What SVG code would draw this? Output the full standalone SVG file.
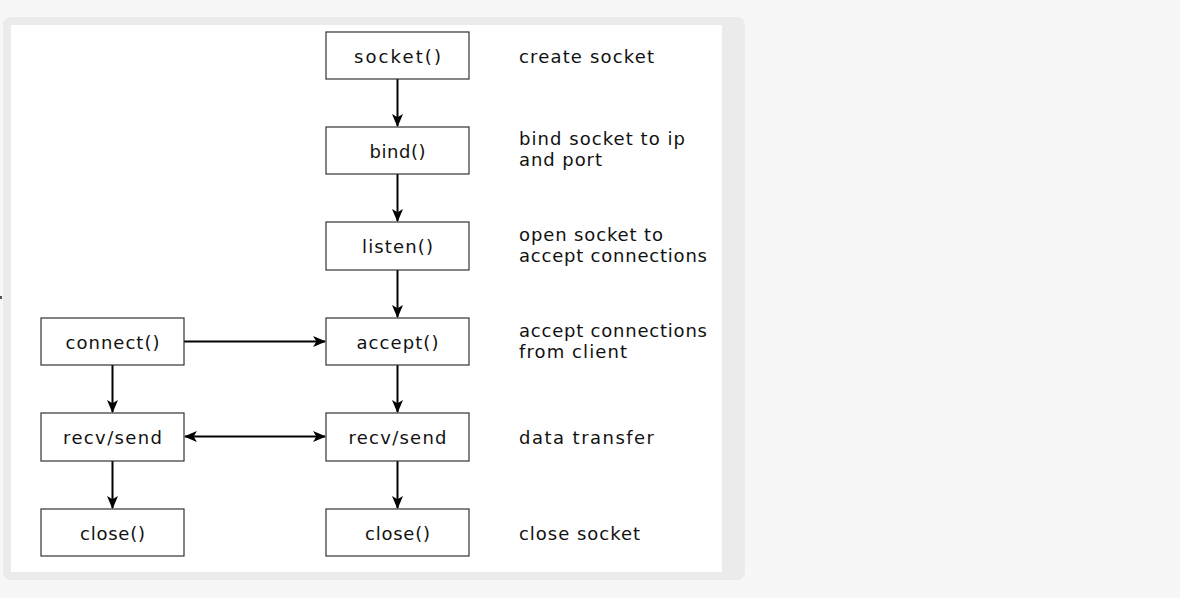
<svg xmlns="http://www.w3.org/2000/svg" width="1180" height="598" viewBox="0 0 1180 598">
<style>
.box{fill:#fff;stroke:#333;stroke-width:1.2}
.lbl{font-family:"DejaVu Sans","Liberation Sans",sans-serif;font-size:18px;fill:#111}
.c{text-anchor:middle}
.edge{fill:none;stroke:#000;stroke-width:2}
</style>
<defs>
<marker id="ah" viewBox="0 0 12 10" refX="11" refY="5" markerWidth="13" markerHeight="11" markerUnits="userSpaceOnUse" orient="auto-start-reverse" preserveAspectRatio="none">
<path d="M0,0 L12,5 L0,10 L3,5 Z" fill="#000"/>
</marker>
</defs>
<rect x="0" y="0" width="1180" height="598" fill="#f7f7f7"/>
<rect x="3" y="17" width="742" height="563" rx="8" fill="#ebebeb"/>
<rect x="11" y="25" width="711" height="547" fill="#fff"/>
<rect x="0" y="296" width="2" height="3" fill="#555"/>

<g id="connectors">
<path class="edge" d="M397.5,79 V126" marker-end="url(#ah)"/>
<path class="edge" d="M397.5,174 V221" marker-end="url(#ah)"/>
<path class="edge" d="M397.5,270 V317" marker-end="url(#ah)"/>
<path class="edge" d="M397.5,365 V412" marker-end="url(#ah)"/>
<path class="edge" d="M397.5,461 V508" marker-end="url(#ah)"/>
<path class="edge" d="M112.5,365 V412" marker-end="url(#ah)"/>
<path class="edge" d="M112.5,461 V508" marker-end="url(#ah)"/>
<path class="edge" d="M184,341.5 H325" marker-end="url(#ah)"/>
<path class="edge" d="M185,436.5 H325" marker-start="url(#ah)" marker-end="url(#ah)"/>
</g>

<g id="socket"><rect class="box" x="326" y="32" width="143" height="47"/><text class="lbl c" x="397.5" y="63" textLength="87">socket()</text></g>
<g id="bind"><rect class="box" x="326" y="127" width="143" height="47"/><text class="lbl c" x="397.5" y="158" textLength="56">bind()</text></g>
<g id="listen"><rect class="box" x="326" y="222" width="143" height="48"/><text class="lbl c" x="397.5" y="253" textLength="71">listen()</text></g>
<g id="accept"><rect class="box" x="326" y="318" width="143" height="47"/><text class="lbl c" x="397.5" y="349" textLength="82">accept()</text></g>
<g id="recvsend-server"><rect class="box" x="326" y="413" width="143" height="48"/><text class="lbl c" x="397.5" y="444" textLength="98">recv/send</text></g>
<g id="close-server"><rect class="box" x="326" y="509" width="143" height="47"/><text class="lbl c" x="397.5" y="540" textLength="65">close()</text></g>
<g id="connect"><rect class="box" x="41" y="318" width="143" height="47"/><text class="lbl c" x="112.5" y="349" textLength="94">connect()</text></g>
<g id="recvsend-client"><rect class="box" x="41" y="413" width="143" height="48"/><text class="lbl c" x="112.5" y="444" textLength="99">recv/send</text></g>
<g id="close-client"><rect class="box" x="41" y="509" width="143" height="47"/><text class="lbl c" x="112.5" y="540" textLength="65">close()</text></g>

<g id="notes">
<text class="lbl" x="519" y="63" textLength="135">create socket</text>
<text class="lbl" x="519" y="145" textLength="166">bind socket to ip</text>
<text class="lbl" x="519" y="166" textLength="83">and port</text>
<text class="lbl" x="519" y="241" textLength="144">open socket to</text>
<text class="lbl" x="519" y="262" textLength="188">accept connections</text>
<text class="lbl" x="519" y="337" textLength="188">accept connections</text>
<text class="lbl" x="519" y="358" textLength="108">from client</text>
<text class="lbl" x="519" y="444" textLength="135">data transfer</text>
<text class="lbl" x="519" y="540" textLength="121">close socket</text>
</g>
</svg>
